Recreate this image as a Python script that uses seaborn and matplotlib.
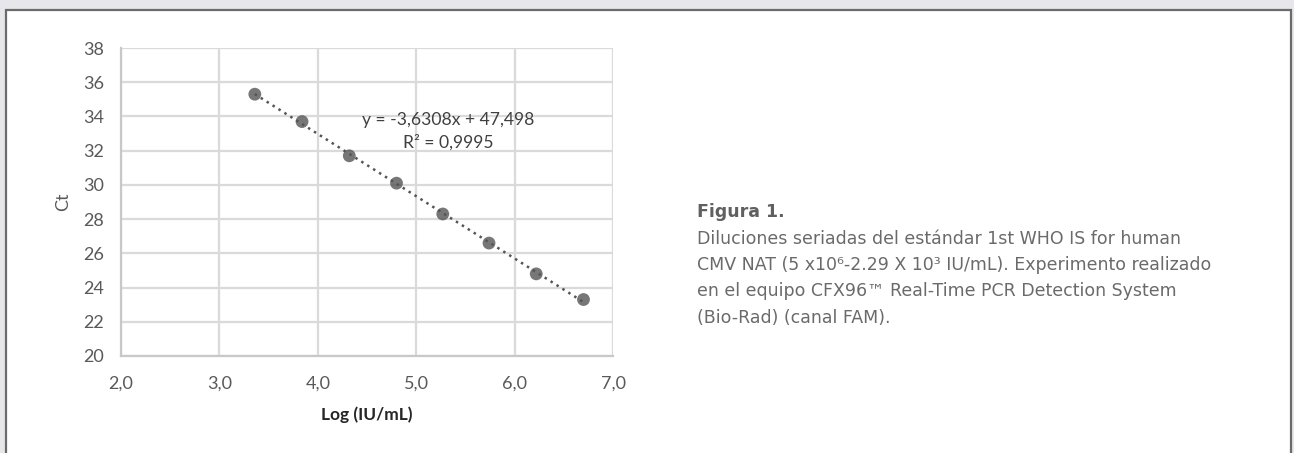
import numpy as np
import pandas as pd
import seaborn as sns
import matplotlib.pyplot as plt
from matplotlib.patches import Rectangle
from matplotlib.ticker import FixedLocator, FuncFormatter

# log10 of the standard dilutions and measured Ct
log_conc = [3.36, 3.84, 4.32, 4.80, 5.27, 5.74, 6.22, 6.70]
ct = [35.3, 33.7, 31.7, 30.1, 28.3, 26.6, 24.8, 23.3]

x_ticks = [2.0, 3.0, 4.0, 5.0, 6.0, 7.0]
y_ticks = [20, 22, 24, 26, 28, 30, 32, 34, 36, 38]

eq_text = "y = -3,6308x + 47,498"
r2_text = "R² = 0,9995"
caption_title = "Figura 1."
caption_lines = [
    "Diluciones seriadas del estándar 1st WHO IS for human",
    "CMV NAT (5 x10⁶-2.29 X 10³ IU/mL). Experimento realizado",
    "en el equipo CFX96™ Real-Time PCR Detection System",
    "(Bio-Rad) (canal FAM).",
]

df = pd.DataFrame({"log": log_conc, "ct": ct})

sns.set_style("white")
plt.rcParams['font.family'] = ['Lato', 'DejaVu Sans']

fig = plt.figure(figsize=(12.94, 4.53), dpi=100, facecolor='#e7e7eb')
# white panel with dark border, behind everything
fig.patches.append(Rectangle((6 / 1294, -0.1), (1291 - 6) / 1294, 1.1 - 10 / 453,
                             transform=fig.transFigure, facecolor='white',
                             edgecolor='#6b6b6b', linewidth=1.6, zorder=-10))

ax = fig.add_axes([121 / 1294, 1 - 356 / 453, (613 - 121) / 1294, (356 - 48) / 453])
ax.set_zorder(1)
ax.set_facecolor('white')

sns.regplot(data=df, x="log", y="ct", ax=ax, ci=None,
            scatter_kws=dict(s=85, color='#555555', edgecolor='none', zorder=3),
            line_kws=dict(color='#555555', linestyle=(0, (1, 1.8)), linewidth=1.8, zorder=2))

ax.set_xlim(2.0, 7.0)
ax.set_ylim(20, 38)
ax.xaxis.set_major_locator(FixedLocator(x_ticks))
ax.yaxis.set_major_locator(FixedLocator(y_ticks))
ax.xaxis.set_major_formatter(FuncFormatter(lambda v, p: f"{v:.1f}".replace('.', ',')))
ax.yaxis.set_major_formatter(FuncFormatter(lambda v, p: f"{v:.0f}"))
ax.grid(True, color='#dadada', linewidth=1.6)
ax.set_axisbelow(True)
for side in ['top', 'right']:
    ax.spines[side].set_visible(False)
for side in ['left', 'bottom']:
    ax.spines[side].set_color('#c8c8c8')
    ax.spines[side].set_linewidth(1.6)
ax.tick_params(axis='both', length=0, labelsize=13, labelcolor='#595959')
ax.tick_params(axis='y', pad=12)
ax.tick_params(axis='x', pad=14)

ax.set_xlabel("Log (IU/mL)", fontsize=12.5, fontweight='bold', color='#262626', labelpad=11)
ax.set_ylabel("Ct", fontsize=13, color='#595959', labelpad=9)

ax.text(5.33, 33.8, eq_text, fontsize=12.6, color='#404040', ha='center', va='center')
ax.text(5.33, 32.5, r2_text, fontsize=12.6, color='#404040', ha='center', va='center')

fig.text(697 / 1294, 1 - 212 / 453, caption_title, fontsize=12.5, fontweight='bold',
         color='#606060', va='center', family=['DejaVu Sans'])
for i, line in enumerate(caption_lines):
    fig.text(697 / 1294, 1 - (238.5 + 26.5 * i) / 453, line, fontsize=12.5,
             color='#6a6a6a', va='center', family=['DejaVu Sans'])

fig.savefig('out.png', dpi=100, facecolor=fig.get_facecolor())
